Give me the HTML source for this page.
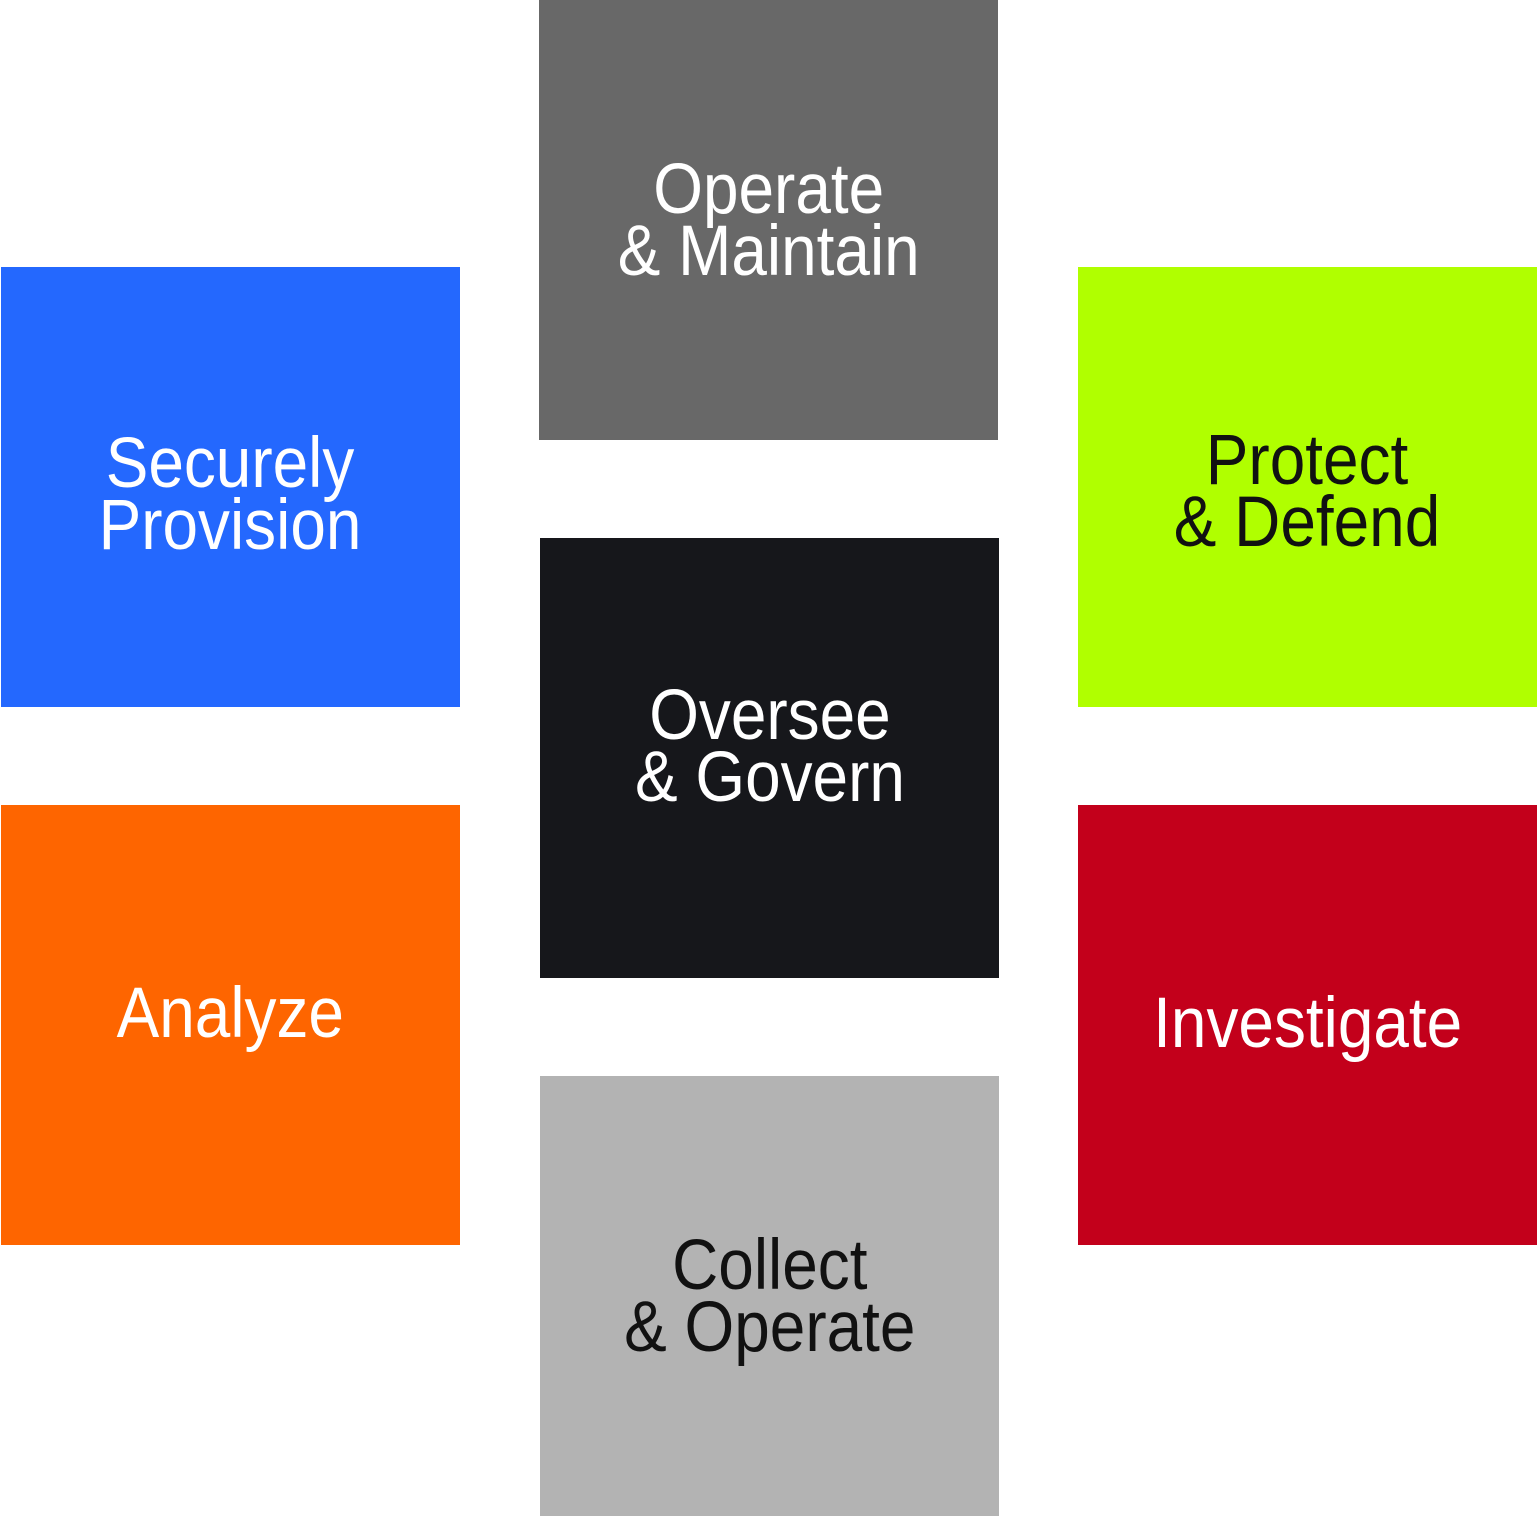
<!DOCTYPE html>
<html><head><style>
html,body{margin:0;padding:0;background:#fff;width:1539px;height:1517px;overflow:hidden;position:relative}
.b{position:absolute;width:459px;height:440px;display:flex;align-items:center;justify-content:center;text-align:center;
font-family:"Liberation Sans",sans-serif;font-size:71px;line-height:62px;color:#fff;font-weight:normal}
.b span{display:inline-block}
</style></head><body>
<div class="b" style="left:539px;top:0;background:#686868"><span style="transform:translateY(1px) scaleX(0.9)">Operate<br>&amp; Maintain</span></div>
<div class="b" style="left:1px;top:267px;background:#2468fe"><span style="transform:translateY(8px) scaleX(0.9)">Securely<br>Provision</span></div>
<div class="b" style="left:1078px;top:267px;background:#b0ff00;color:#111"><span style="transform:translateY(5px) scaleX(0.9)">Protect<br>&amp; Defend</span></div>
<div class="b" style="left:540px;top:538px;background:#16171b"><span style="transform:translateY(-11px) scaleX(0.9)">Oversee<br>&amp; Govern</span></div>
<div class="b" style="left:1px;top:805px;background:#fe6500"><span style="transform:translateY(-11px) scaleX(0.9)">Analyze</span></div>
<div class="b" style="left:1078px;top:805px;background:#c3001b"><span style="transform:translateY(-1px) scaleX(0.9)">Investigate</span></div>
<div class="b" style="left:540px;top:1076px;background:#b3b3b3;color:#111"><span style="transform:translateY(1px) scaleX(0.9)">Collect<br>&amp; Operate</span></div>
</body></html>
